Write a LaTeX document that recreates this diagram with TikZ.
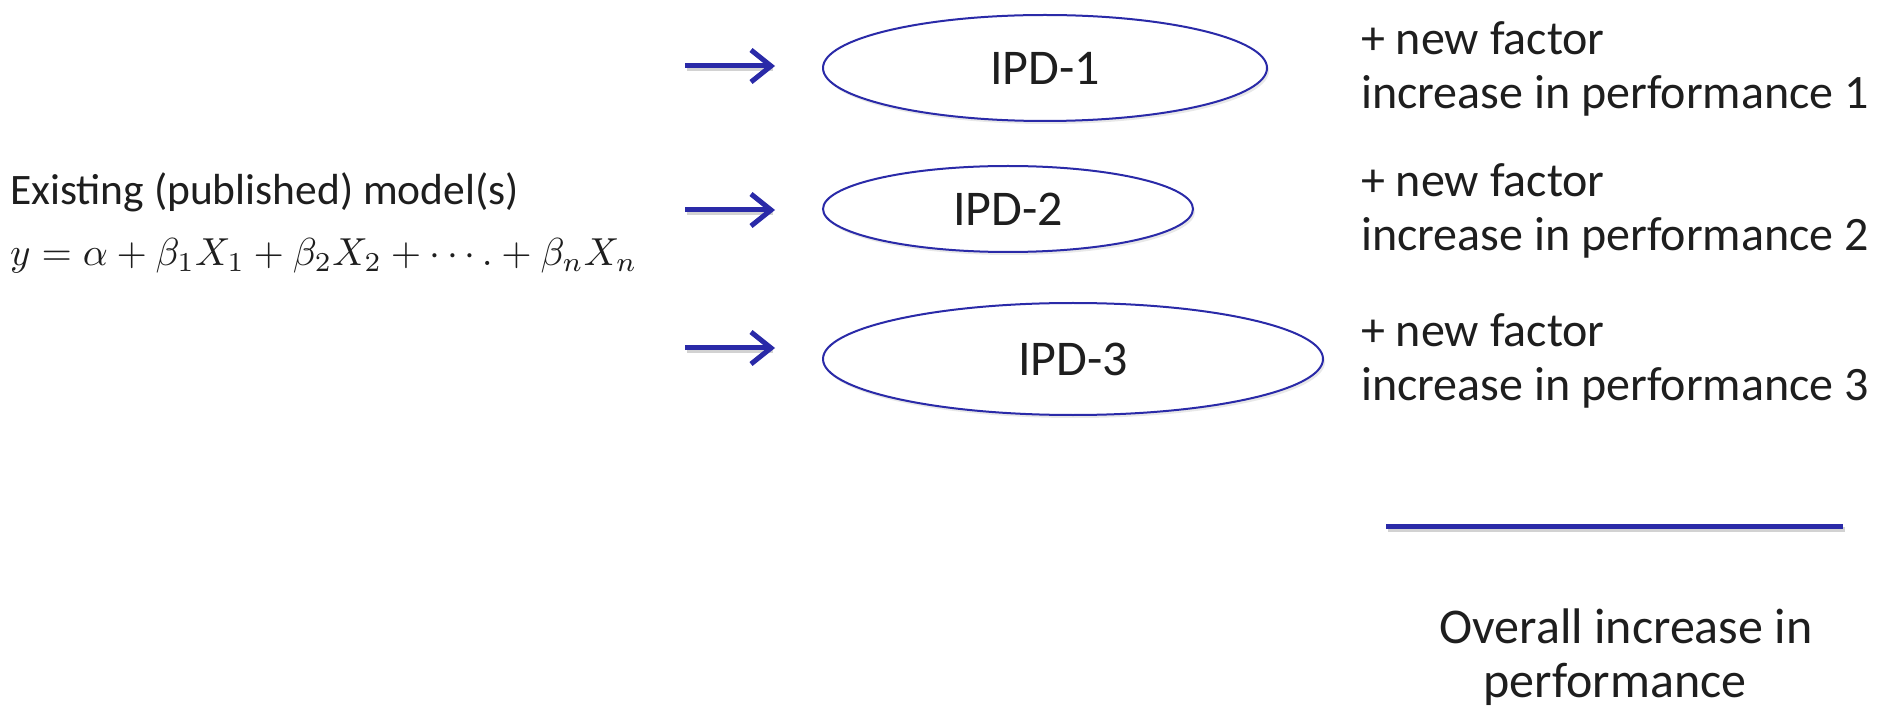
\documentclass[tikz,border=0pt]{standalone}
\usepackage{graphicx}
\usepackage{fontspec}
\setmainfont{Carlito}
\usetikzlibrary{arrows.meta,shapes.geometric,shadows}
\definecolor{bl}{RGB}{42,42,168}
\definecolor{tx}{RGB}{30,30,30}
\tikzset{
  ipd/.style={ellipse, draw=bl, line width=2pt, fill=white, inner sep=0pt,
     text=tx, font=\fontsize{50}{58}\selectfont,
     drop shadow={opacity=0.18, shadow xshift=2pt, shadow yshift=-3pt}},
  arr/.style={draw=bl, line width=5pt, -{Straight Barb[length=20pt,width=32pt]}},
  rtext/.style={anchor=west, align=left, inner sep=0pt, text=tx, font=\fontsize{48}{54}\selectfont},
  ltext/.style={anchor=west, inner sep=0pt, text=tx, font=\fontsize{43.5}{50}\selectfont}
}
\begin{document}
\begin{tikzpicture}[x=1pt,y=-1pt]
\useasboundingbox[fill=white] (0,0) rectangle (1884,708);
% left model
\node[ltext] (model) at (10,192) {Existing (published) model(s)};
\node[anchor=west, inner sep=0pt, text=tx] (eq) at (10,256) {\resizebox{627pt}{!}{$y=\alpha+\beta_1X_1+\beta_2X_2+\cdots.+\beta_nX_n$}};
% ellipses
\node[ipd, minimum width=444pt, minimum height=106pt] (e1) at (1045,68) {IPD-1};
\node[ipd, minimum width=370pt, minimum height=86pt] (e2) at (1008,209) {IPD-2};
\node[ipd, minimum width=500pt, minimum height=112pt] (e3) at (1073,359) {IPD-3};
% arrows
\coordinate (s1) at (685,66);  \coordinate (t1) at (775,66);
\coordinate (s2) at (685,210); \coordinate (t2) at (775,210);
\coordinate (s3) at (685,348); \coordinate (t3) at (775,348);
\foreach \i in {1,2,3}{
  \draw[gray!35, line width=5pt, transform canvas={shift={(2pt,-3pt)}}] (s\i) -- ([xshift=-4pt]t\i);
  \draw[arr] (s\i) -- (t\i);
}
% right texts
\node[rtext] (r1) at (1361,69) {+ new factor\\increase in performance 1};
\node[rtext] (r2) at (1361,211) {+ new factor\\increase in performance 2};
\node[rtext] (r3) at (1361,361) {+ new factor\\increase in performance 3};
% sum line
\coordinate (l1) at (1386,526);
\coordinate (l2) at (1843,526);
\draw[gray!35, line width=5pt, transform canvas={shift={(2pt,-3pt)}}] (l1) -- (l2);
\draw[bl, line width=5pt] (l1) -- (l2);
\node[align=center, inner sep=0pt, text=tx, font=\fontsize{50}{54}\selectfont] (overall) at (1615,657) {\hspace*{22pt}Overall increase in\\performance};
\end{tikzpicture}
\end{document}
